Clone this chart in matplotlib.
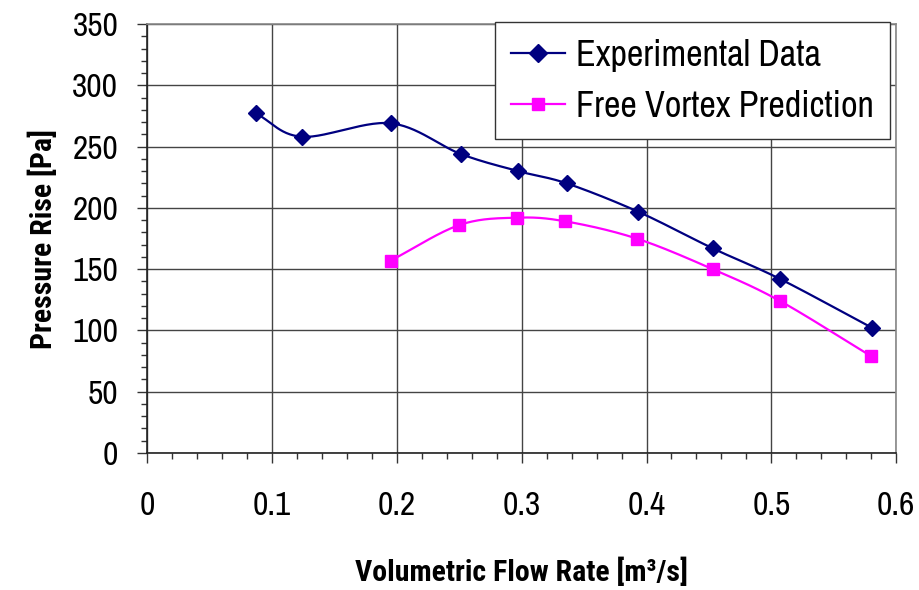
import numpy as np
import matplotlib
matplotlib.use("Agg")
import matplotlib.pyplot as plt
from matplotlib.ticker import MultipleLocator, FormatStrFormatter

plt.rcParams['font.family'] = ['Archivo Narrow', 'Liberation Sans', 'DejaVu Sans']
BOLD_FAMILY = ['Roboto Condensed', 'Archivo Narrow', 'Liberation Sans', 'DejaVu Sans']

# Data
exp_x = [0.087, 0.124, 0.195, 0.251, 0.297, 0.336, 0.393, 0.453, 0.507, 0.581]
exp_y = [277, 258, 269, 244, 230, 220, 197, 167, 142, 102]
fv_x = [0.195, 0.250, 0.296, 0.335, 0.392, 0.453, 0.507, 0.580]
fv_y = [157, 186, 192, 189, 175, 150, 124, 79]
x_ticks = [0, 0.1, 0.2, 0.3, 0.4, 0.5, 0.6]
y_ticks = [0, 50, 100, 150, 200, 250, 300, 350]


def smooth(xs, ys, n=30):
    """Catmull-Rom style smoothing of the connecting line (Excel 'smoothed line')."""
    x = np.asarray(xs, float)
    y = np.asarray(ys, float)
    px = np.concatenate([[2 * x[0] - x[1]], x, [2 * x[-1] - x[-2]]])
    py = np.concatenate([[2 * y[0] - y[1]], y, [2 * y[-1] - y[-2]]])
    ox, oy = [], []
    t = np.linspace(0, 1, n)
    for i in range(1, len(px) - 2):
        p0, p1, p2, p3 = [np.array([px[j], py[j]]) for j in (i - 1, i, i + 1, i + 2)]
        c1 = p1 + (p2 - p0) / 6.0
        c2 = p2 - (p3 - p1) / 6.0
        for tt in t:
            b = ((1 - tt) ** 3) * p1 + 3 * ((1 - tt) ** 2) * tt * c1 + 3 * (1 - tt) * tt ** 2 * c2 + tt ** 3 * p2
            ox.append(b[0]); oy.append(b[1])
    return ox, oy


fig = plt.figure(figsize=(9.2, 5.9), dpi=100)
ax = fig.add_axes([0.1603, 0.2322, 0.8137, 0.7271])

navy = '#000080'
magenta = '#FF00FF'

sx, sy = smooth(exp_x, exp_y)
ax.plot(sx, sy, color=navy, lw=1.6, zorder=3)
ax.plot(exp_x, exp_y, linestyle='none', marker='D', ms=8, color=navy, zorder=4)
fx, fy = smooth(fv_x, fv_y)
ax.plot(fx, fy, color=magenta, lw=1.6, zorder=3)
ax.plot(fv_x, fv_y, linestyle='none', marker='s', ms=8, color=magenta, zorder=4)

# legend proxies
h1, = ax.plot([], [], color=navy, lw=1.6, marker='D', ms=9, label='Experimental Data')
h2, = ax.plot([], [], color=magenta, lw=1.6, marker='s', ms=9, label='Free Vortex Prediction')

ax.set_xlim(0, 0.6)
ax.set_ylim(0, 350)
ax.set_xticks(x_ticks)
ax.set_yticks(y_ticks)
ax.xaxis.set_major_formatter(FormatStrFormatter('%g'))
ax.xaxis.set_minor_locator(MultipleLocator(0.02))
ax.yaxis.set_minor_locator(MultipleLocator(10))

ax.grid(True, which='major', color='#444444', lw=1.0, zorder=1)
ax.tick_params(axis='both', which='major', direction='out', length=7, width=1, labelsize=24, color='#333333')
ax.tick_params(axis='x', which='major', pad=20)
ax.tick_params(axis='y', which='major', pad=14)
ax.tick_params(axis='both', which='minor', direction='out', length=4.5, width=1, color='#333333')

for s in ['left', 'bottom']:
    ax.spines[s].set_color('#222222')
    ax.spines[s].set_linewidth(1.2)
for s in ['top', 'right']:
    ax.spines[s].set_color('#888888')
    ax.spines[s].set_linewidth(1.2)

ax.set_xlabel('Volumetric Flow Rate [m³/s]', fontsize=21.5, fontweight='bold', family=BOLD_FAMILY, labelpad=27)
ax.set_ylabel('Pressure Rise [Pa]', fontsize=21.5, fontweight='bold', family=BOLD_FAMILY, labelpad=10)

leg = ax.legend(handles=[h1, h2], loc='upper right', bbox_to_anchor=(0.992, 1.004),
                prop={'size': 26}, frameon=True, fancybox=False, framealpha=1,
                edgecolor='#333333', handlelength=1.5, handletextpad=0.3,
                borderpad=0.45, labelspacing=0.5, borderaxespad=0)
leg.get_frame().set_linewidth(1.0)
leg.set_zorder(5)

fig.savefig('out.png', dpi=100, facecolor='white')
